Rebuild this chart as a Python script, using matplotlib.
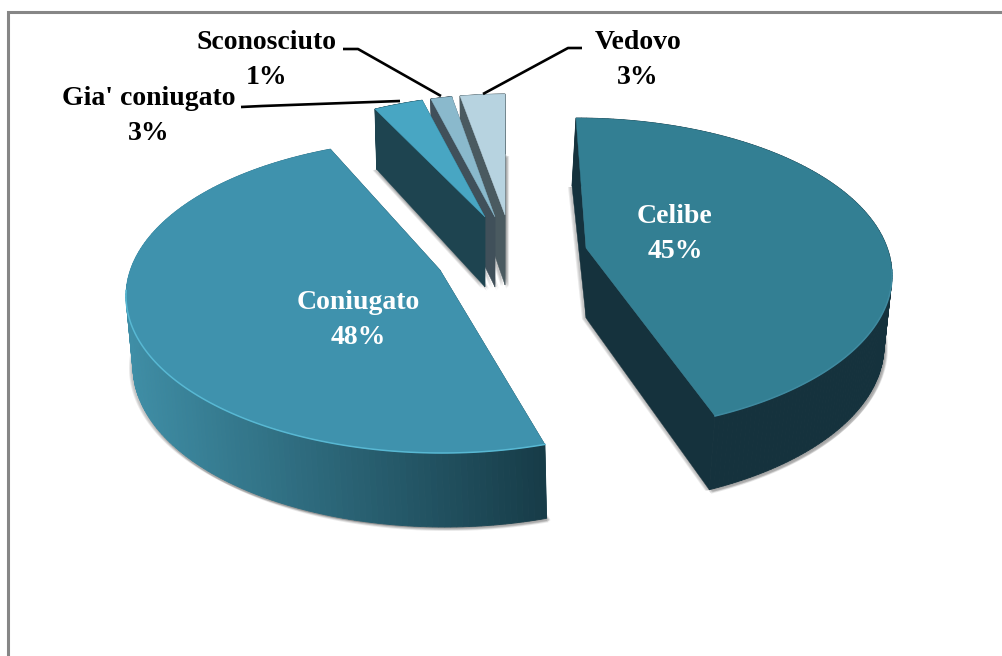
import numpy as np
import matplotlib
matplotlib.use("Agg")
import matplotlib.pyplot as plt
from matplotlib.colors import to_rgb

labels = ["Celibe", "Coniugato", "Gia' coniugato", "Sconosciuto", "Vedovo"]
values = [45, 48, 3, 1, 3]

# layout of each exploded slice, in pixels
top_color = ["#337f93", "#3f92ad", "#48a6c3", "#8ab9cc", "#b7d3e0"]
wall_left = ["#15323d", "#3f8ea6", "#1e4450", "#40505a", "#4a5a60"]
wall_right = ["#15323d", "#173c48", "#1e4450", "#40505a", "#4a5a60"]
rim_color = ["#3f8aa0", "#58b8d3", None, None, None]
center = [(576, 275), (442, 296), (510, 251), (510, 251), (510, 251)]
bottom = [(572, 346), (445, 367), (510, 314), (510, 314), (510, 314)]
apex = [(586, 248), (440, 270), (485, 217), (495, 217), (505, 215)]
rim_start = [90, -71, 115.3, 104.5, 99.1]
rim_scale = [0.95, 1.032, 0.85, 1.08, 0.76]
text_pos = [(675, 234), (358, 320), (149, 116), (267, 60), (638, 60)]
text_color = ["white", "white", "black", "black", "black"]
leaders = [None, None,
           ([241, 262, 400], [107, 106, 101]),
           ([343, 358, 441], [49, 49, 96]),
           ([483, 568, 582], [94, 48, 48])]

A, B = 316, 157
A_BOT, B_BOT = 312, 160
DEPTH = 70

fig = plt.figure(figsize=(10.02, 6.56), dpi=100)
ax = fig.add_axes([0, 0, 1, 1])
ax.set_xlim(0, 1002)
ax.set_ylim(656, 0)
ax.axis("off")

# chart frame, cut off on the right and at the bottom
ax.plot([8.5, 8.5, 1002], [656, 11.5, 11.5], color="#868686", lw=2.2, solid_joinstyle="miter")


def arc(c, a, b, t):
    return c[0] + a * np.cos(t), c[1] - b * np.sin(t)


def rim_angles(i):
    return np.radians(np.linspace(rim_start[i], rim_start[i] - values[i] * 3.6 * rim_scale[i], 160))


# soft shadow of the underside
for i in range(len(values)):
    bx, by = arc(bottom[i], A_BOT, B_BOT, rim_angles(i))
    px = np.r_[bx, apex[i][0]]
    py = np.r_[by, apex[i][1] + DEPTH]
    for dx, dy in [(-4, 1), (-3, 1), (-2, 1), (2, 1), (3, 2), (4, 2), (1, 3), (2, 4), (3, 3)]:
        ax.fill(px + dx, py + dy, color="#707070", alpha=0.15, lw=0)

# back to front
for i in reversed(range(len(values))):
    t = rim_angles(i)
    tx, ty = arc(center[i], A, B, t)
    bx, by = arc(bottom[i], A_BOT, B_BOT, t)
    ax_, ay_ = apex[i]

    # the two radial walls
    for k in (0, -1):
        ax.fill([tx[k], ax_, ax_, bx[k]], [ty[k], ay_, ay_ + DEPTH, by[k]],
                color=wall_right[i], lw=0.3)

    # outer wall, shaded along x
    c0, c1 = np.array(to_rgb(wall_left[i])), np.array(to_rgb(wall_right[i]))
    for j in range(len(t) - 1):
        f = np.clip((tx[j] - 127) / (545 - 127), 0, 1) if i == 1 else 0
        ax.fill([tx[j], tx[j + 1], bx[j + 1], bx[j]], [ty[j], ty[j + 1], by[j + 1], by[j]],
                color=c0 + (c1 - c0) * f, lw=0.6)

    # top face
    ax.fill(np.r_[ax_, tx], np.r_[ay_, ty], color=top_color[i], lw=0.3)
    if rim_color[i]:
        front = np.sin(t) < 0.05
        ax.plot(tx[front], ty[front], color=rim_color[i], lw=1.1)

for i, name in enumerate(labels):
    if leaders[i]:
        ax.plot(leaders[i][0], leaders[i][1], color="black", lw=1.9, solid_capstyle="butt")
    ax.text(text_pos[i][0], text_pos[i][1], f"{name}\n{values[i]}%", ha="center", va="center",
            family="Liberation Serif", weight="bold", size=20, color=text_color[i], linespacing=1.48)

fig.savefig("out.png", dpi=100)
